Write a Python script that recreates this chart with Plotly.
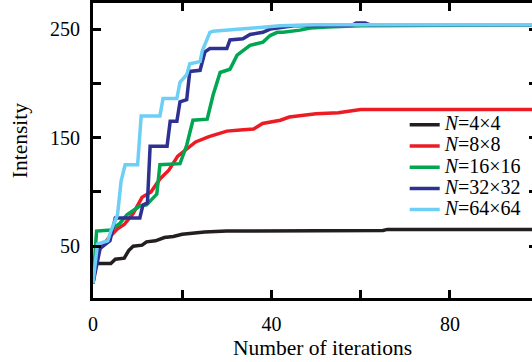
import plotly.graph_objects as go

# ---- data ----
x_4 = [0, 0.5, 4, 5, 7, 8, 9, 11, 12, 14, 16, 18, 20, 22, 25, 30, 35, 40, 65, 66, 100]
y_4 = [16, 34, 34, 38, 39, 46, 50, 51, 54, 55, 58, 59, 61, 62, 63, 64, 64, 64.5, 64.5, 65.5, 65.5]

x_8 = [0, 1, 3.4, 5.5, 7, 9, 11, 13, 15, 17, 19, 21, 23, 26, 30, 33, 36, 38, 42, 44, 46, 47, 50, 55, 58, 60, 100]
y_8 = [16, 45, 57, 66, 70, 80, 95, 100, 112, 120, 133, 140, 146, 151, 156, 157, 158, 163, 166, 169, 170, 171, 172, 173, 175, 176, 176]

x_16 = [0, 0.8, 4, 6, 7.6, 10.5, 12, 14.3, 15, 19.5, 21, 22.4, 25.6, 26.9, 28.5, 30.7, 32.3, 35.2, 38.1, 39.7, 41.3, 42.6, 46.4, 48.7, 52.5, 60, 100]
y_16 = [16, 64, 65, 71, 79, 87, 88, 98, 125, 126, 143, 166, 167, 189, 210, 213, 226, 235, 238, 244, 247, 247, 249, 251, 252, 253, 254]

x_32 = [0, 1.6, 3.8, 5.0, 10.5, 11.2, 12.2, 12.8, 16.6, 17.3, 18.8, 19.5, 21, 21.7, 24, 25.1, 26.2, 30, 30.7, 33.6, 35.2, 38.1, 39.7, 42.6, 45, 58, 59, 61, 62, 100]
y_32 = [16, 48, 55, 76, 76, 88, 90, 142, 142, 165, 165, 183, 185, 211, 212, 229, 232, 232, 240, 241, 245, 247, 250, 252, 253, 253.5, 255.5, 255.5, 254, 254]

x_64 = [0, 1, 3.3, 4, 5.5, 6.3, 7.2, 10, 10.8, 15, 15.7, 18.8, 19.5, 21, 21.7, 24, 24.5, 25.1, 26.2, 26.9, 30, 33, 38.1, 41.9, 50, 100]
y_64 = [16, 52, 55, 64, 79, 110, 125, 125, 170, 170, 186, 186, 201, 208, 218, 220, 230, 236, 247, 248, 249, 250, 252, 253, 254, 254]

series_names = ["<i>N</i>=4×4", "<i>N</i>=8×8", "<i>N</i>=16×16", "<i>N</i>=32×32", "<i>N</i>=64×64"]
series_x = [x_4, x_8, x_16, x_32, x_64]
series_y = [y_4, y_8, y_16, y_32, y_64]
colors = ["#231f20", "#ed1c24", "#00a651", "#2e3192", "#6dcff6"]

x_tickvals = [0, 20, 40, 60, 80, 100]
x_ticktext = ["0", "", "40", "", "80", ""]
y_tickvals = [50, 100, 150, 200, 250]
y_ticktext = ["50", "", "150", "", "250"]
x_range = [0, 98.4]
y_range = [2.3, 274]

FONT = "Liberation Serif, Times New Roman, serif"

fig = go.Figure()
for xs, ys, name, c in zip(series_x, series_y, series_names, colors):
    fig.add_trace(go.Scatter(
        x=xs, y=ys, mode="lines", name=f'<span style="font-size:20px">{name}</span>',
        line=dict(color=c, width=3.5),
    ))
# empty helper trace so the right-hand tick axis is rendered
fig.add_trace(go.Scatter(x=[None], y=[None], yaxis="y2", showlegend=False,
                         hoverinfo="skip", mode="lines"))

axis_common = dict(
    showline=True, linecolor="black", linewidth=3,
    ticks="inside", ticklen=8, tickwidth=3, tickcolor="black",
    showgrid=False, zeroline=False,
    tickfont=dict(family=FONT, size=20, color="black"),
)

fig.update_layout(
    width=532, height=362,
    margin=dict(l=93, r=0, t=1, b=64),
    paper_bgcolor="white", plot_bgcolor="white",
    font=dict(family=FONT, size=20, color="black"),
    xaxis=dict(range=x_range, tickvals=x_tickvals, ticktext=x_ticktext,
               mirror="ticks", ticklabelstandoff=6, **axis_common),
    yaxis=dict(range=y_range, tickvals=y_tickvals, ticktext=y_ticktext,
               mirror=False, ticklabelstandoff=6, **axis_common),
    yaxis2=dict(range=y_range, tickvals=y_tickvals, showticklabels=False,
                overlaying="y", side="right", showline=False,
                ticks="inside", ticklen=3, tickwidth=3, tickcolor="black",
                showgrid=False, zeroline=False),
    legend=dict(x=0.71, y=0.64, xanchor="left", yanchor="top",
                bgcolor="rgba(0,0,0,0)", font=dict(family=FONT, size=14, color="black"),
                tracegroupgap=0),
    showlegend=True,
    annotations=[
        dict(text="Number of iterations", xref="paper", yref="paper",
             x=0.522, y=-0.168, xanchor="center", yanchor="middle", showarrow=False,
             font=dict(family=FONT, size=21.5, color="black")),
        dict(text="Intensity", xref="paper", yref="paper", textangle=-90,
             x=-0.166, y=0.532, xanchor="center", yanchor="middle", showarrow=False,
             font=dict(family=FONT, size=21.5, color="black")),
    ],
)

fig.write_html("out.html", config={"displayModeBar": False},
               post_script="document.body.style.margin='0';document.body.style.overflow='hidden';")
